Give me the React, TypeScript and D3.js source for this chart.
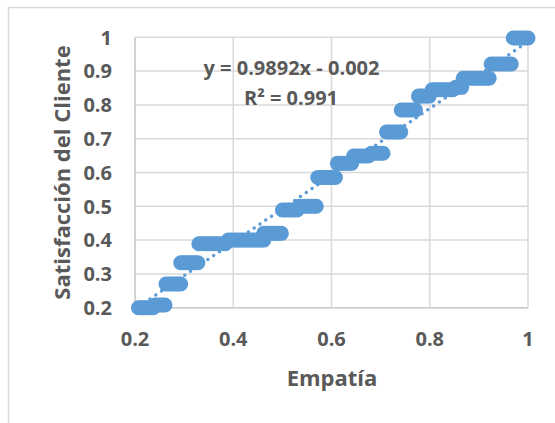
import React from "react";
import * as d3 from "d3";

// Scatter data: [Empatía, Satisfacción del Cliente]
const puntos: [number, number][] = [
  [0.207, 0.2], [0.212, 0.2], [0.217, 0.2], [0.222, 0.2], [0.227, 0.2], [0.232, 0.2], [0.237, 0.2],
  [0.241, 0.208], [0.246, 0.208], [0.251, 0.208], [0.256, 0.208], [0.261, 0.208],
  [0.263, 0.27], [0.268, 0.27], [0.273, 0.27], [0.278, 0.27], [0.283, 0.27], [0.288, 0.27], [0.293, 0.27],
  [0.293, 0.333], [0.298, 0.333], [0.303, 0.333], [0.308, 0.333], [0.313, 0.333], [0.318, 0.333], [0.323, 0.333], [0.328, 0.333],
  [0.33, 0.389], [0.336, 0.389], [0.342, 0.389], [0.348, 0.389], [0.354, 0.389], [0.36, 0.389], [0.366, 0.389], [0.372, 0.389], [0.378, 0.389], [0.384, 0.389],
  [0.39, 0.4], [0.396, 0.4], [0.402, 0.4], [0.408, 0.4], [0.414, 0.4], [0.42, 0.4], [0.426, 0.4], [0.432, 0.4], [0.438, 0.4], [0.444, 0.4], [0.45, 0.4], [0.456, 0.4], [0.462, 0.4],
  [0.462, 0.42], [0.468, 0.42], [0.474, 0.42], [0.48, 0.42], [0.486, 0.42], [0.492, 0.42], [0.498, 0.42],
  [0.5, 0.489], [0.506, 0.489], [0.512, 0.489], [0.518, 0.489], [0.524, 0.489], [0.53, 0.489],
  [0.534, 0.5], [0.54, 0.5], [0.546, 0.5], [0.552, 0.5], [0.558, 0.5], [0.564, 0.5], [0.569, 0.5],
  [0.572, 0.585], [0.578, 0.585], [0.584, 0.585], [0.59, 0.585], [0.596, 0.585], [0.602, 0.585], [0.608, 0.585],
  [0.612, 0.627], [0.618, 0.627], [0.624, 0.627], [0.63, 0.627], [0.636, 0.627], [0.641, 0.627],
  [0.645, 0.649], [0.651, 0.649], [0.657, 0.649], [0.663, 0.649], [0.669, 0.649], [0.675, 0.649],
  [0.681, 0.657], [0.687, 0.657], [0.693, 0.657], [0.699, 0.657], [0.705, 0.657],
  [0.712, 0.72], [0.717, 0.72], [0.722, 0.72], [0.727, 0.72], [0.732, 0.72], [0.737, 0.72], [0.741, 0.72],
  [0.742, 0.785], [0.748, 0.785], [0.754, 0.785], [0.76, 0.785], [0.766, 0.785], [0.771, 0.785],
  [0.777, 0.826], [0.782, 0.826], [0.787, 0.826], [0.793, 0.826], [0.799, 0.826],
  [0.805, 0.845], [0.811, 0.845], [0.817, 0.845], [0.823, 0.845], [0.829, 0.845], [0.835, 0.845], [0.841, 0.845], [0.847, 0.845],
  [0.853, 0.852], [0.859, 0.852], [0.865, 0.852],
  [0.868, 0.879], [0.874, 0.879], [0.88, 0.879], [0.886, 0.879], [0.892, 0.879], [0.898, 0.879], [0.904, 0.879], [0.91, 0.879], [0.916, 0.879], [0.921, 0.879],
  [0.925, 0.921], [0.931, 0.921], [0.937, 0.921], [0.943, 0.921], [0.949, 0.921], [0.955, 0.921], [0.961, 0.921], [0.966, 0.921],
  [0.97, 0.998], [0.976, 0.998], [0.982, 0.998], [0.988, 0.998], [0.994, 0.998], [1.0, 0.998],
];

const xTicks = [0.2, 0.4, 0.6, 0.8, 1];
const yTicks = [0.2, 0.3, 0.4, 0.5, 0.6, 0.7, 0.8, 0.9, 1];
const slope = 0.9892;
const intercept = -0.002;
const equationText = "y = 0.9892x - 0.002";
const r2Text = "R² = 0.991";
const xTitle = "Empatía";
const yTitle = "Satisfacción del Cliente";

const W = 555;
const H = 423;
const BLUE = "#5B9BD5";
const GRID = "#d9d9d9";
const TEXT = "#595959";
const FONT = "'Open Sans', 'Liberation Sans', sans-serif";

export default function App() {
  const x = d3.scaleLinear().domain([0.2, 1]).range([135, 528]);
  const y = d3.scaleLinear().domain([0.2, 1]).range([307.7, 37.3]);
  const fmt = (v: number) => (v === 1 ? "1" : d3.format(".1f")(v));

  const xs = puntos.map((p) => p[0]);
  const xMin = d3.min(xs) as number;
  const xMax = d3.max(xs) as number;
  const trend = d3.line<number>()
    .x((v) => x(v))
    .y((v) => y(slope * v + intercept));

  return (
    <svg width={W} height={H} style={{ position: "absolute", left: 0, top: 0, background: "#fff" }}>
      <rect x={0} y={0} width={W} height={H} fill="#fff" />
      {/* chart border */}
      <line x1={8} y1={7.5} x2={W} y2={7.5} stroke={GRID} strokeWidth={1.5} />
      <line x1={8.5} y1={7} x2={8.5} y2={H} stroke={GRID} strokeWidth={1.5} />

      {/* gridlines */}
      {yTicks.map((t) => (
        <line key={"gy" + t} x1={x(0.2)} x2={x(1)} y1={y(t)} y2={y(t)} stroke={GRID} strokeWidth={1.5} />
      ))}
      {xTicks.map((t) => (
        <line key={"gx" + t} x1={x(t)} x2={x(t)} y1={y(0.2)} y2={y(1)} stroke={GRID} strokeWidth={1.5} />
      ))}
      {/* axes */}
      <line x1={x(0.2)} x2={x(1)} y1={y(0.2)} y2={y(0.2)} stroke="#cccccc" strokeWidth={1.5} />
      <line x1={x(0.2)} x2={x(0.2)} y1={y(0.2)} y2={y(1)} stroke="#cccccc" strokeWidth={1.5} />

      {/* tick labels */}
      {yTicks.map((t) => (
        <text key={"ly" + t} x={112} y={y(t)} dy="0.36em" textAnchor="end" fontFamily={FONT} fontWeight={700} fontSize={20} fill={TEXT}>
          {fmt(t)}
        </text>
      ))}
      {xTicks.map((t) => (
        <text key={"lx" + t} x={x(t)} y={339} dy="0.36em" textAnchor="middle" fontFamily={FONT} fontWeight={700} fontSize={20} fill={TEXT}>
          {fmt(t)}
        </text>
      ))}

      {/* axis titles */}
      <text x={332} y={378} dy="0.36em" textAnchor="middle" fontFamily={FONT} fontWeight={700} fontSize={22} fill={TEXT}>
        {xTitle}
      </text>
      <text transform={`translate(62,${(37.3 + 307.7) / 2}) rotate(-90)`} dy="0.36em" textAnchor="middle" fontFamily={FONT} fontWeight={700} fontSize={22} fill={TEXT}>
        {yTitle}
      </text>

      {/* markers */}
      {puntos.map((p, i) => (
        <circle key={i} cx={x(p[0])} cy={y(p[1])} r={7.5} fill={BLUE} />
      ))}

      {/* trendline */}
      <path d={trend([xMin, xMax]) as string} fill="none" stroke={BLUE} strokeWidth={3.5} strokeLinecap="round" strokeDasharray="0 7" />

      {/* equation */}
      <text x={291.5} y={68} dy="0.36em" textAnchor="middle" fontFamily={FONT} fontWeight={700} fontSize={20} fill={TEXT}>
        {equationText}
      </text>
      <text x={291} y={97.5} dy="0.36em" textAnchor="middle" fontFamily={FONT} fontWeight={700} fontSize={20} fill={TEXT}>
        {r2Text}
      </text>
    </svg>
  );
}
